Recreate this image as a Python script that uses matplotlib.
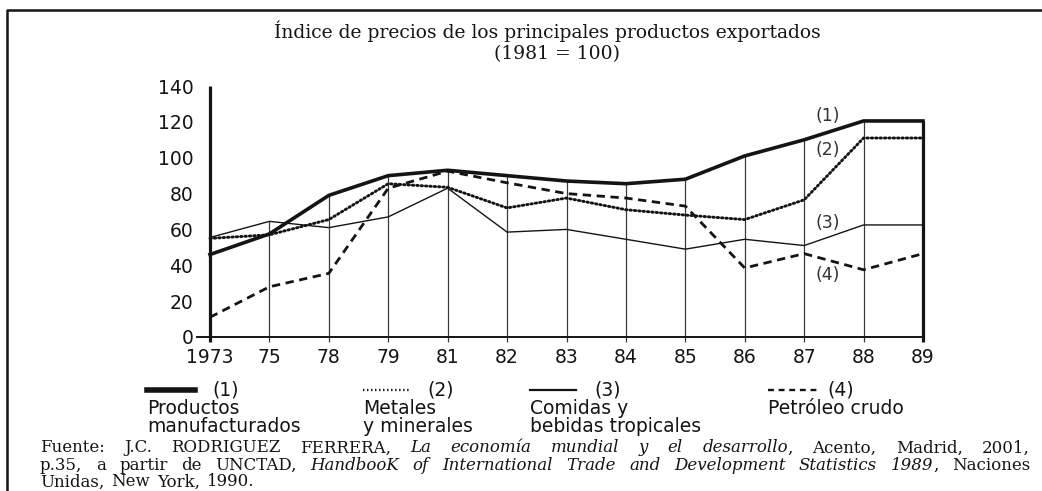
import numpy as np
import matplotlib.pyplot as plt
from matplotlib.lines import Line2D

# Indice de precios (1981 = 100)
years = ["1973", "75", "78", "79", "81", "82", "83", "84", "85", "86", "87", "88", "89"]
manufacturados = [46, 57.5, 79, 90, 93, 90, 87, 85.5, 88, 101, 110, 120.5, 120.5]
metales = [55, 57, 65.5, 85.5, 83.5, 72, 77.5, 71, 68, 65.5, 76.5, 111, 111]
comidas = [55.5, 64.5, 61, 67, 83, 58.5, 60, 54.5, 49, 54.5, 51, 62.5, 62.5]
petroleo = [11, 28, 35.5, 83, 92.5, 86, 80, 77.5, 73, 38.5, 46.5, 37.5, 46.5]

series_ids = ["(1)", "(2)", "(3)", "(4)"]
series_names = [["Productos", "manufacturados"],
                ["Metales", "y minerales"],
                ["Comidas y", "bebidas tropicales"],
                ["Petróleo crudo"]]

INK = "#141414"
SANS = "DejaVu Sans"
SERIF = "DejaVu Serif"

W, H = 1042, 491
fig = plt.figure(figsize=(W / 100, H / 100), dpi=100)


def fx(x):
    return x / W


def fy(y):
    return 1 - y / H


styles = [
    dict(lw=2.6, ls="-"),
    dict(lw=2.1, ls=(0, (0.5, 1.0)), dash_capstyle="round"),
    dict(lw=1.0, ls="-"),
    dict(lw=2.0, ls=(0, (3.0, 2.0))),
]

ax = fig.add_axes([fx(210), fy(337), (923 - 210) / W, (337 - 86) / H])
ax.set_xlim(0, 12)
ax.set_ylim(0, 140)
ax.patch.set_visible(False)
for s in ax.spines.values():
    s.set_visible(False)

xs = np.arange(len(years))
ax.set_xticks(xs)
ax.set_xticklabels(years)
ax.set_yticks(range(0, 141, 20))
ax.tick_params(axis="x", length=0, pad=8, labelsize=13.5, labelcolor=INK)
ax.tick_params(axis="y", length=0, pad=12, labelsize=13.5, labelcolor=INK)
for lab in ax.get_xticklabels() + ax.get_yticklabels():
    lab.set_family(SANS)

# vertical rules at every year, up to the highest curve
all_series = [manufacturados, metales, comidas, petroleo]
tops = np.max(np.array(all_series), axis=0)
for i in xs:
    if i == 0:
        ax.plot([i, i], [-3, 140], color=INK, lw=2.3, clip_on=False, solid_capstyle="butt")
    elif i == xs[-1]:
        ax.plot([i, i], [-3, manufacturados[-1]], color=INK, lw=2.3, clip_on=False,
                solid_capstyle="butt")
    else:
        ax.plot([i, i], [-3, tops[i]], color="#3a3a3a", lw=0.9, clip_on=False,
                solid_capstyle="butt")

# base line
ax.plot([-0.22, 12], [0, 0], color=INK, lw=1.4, clip_on=False)

for vals, st in zip(all_series, styles):
    ax.plot(xs, vals, color=INK, clip_on=False, **st)

# curve labels
for lab, yv in zip(series_ids, [123.5, 104.5, 63.5, 34.5]):
    ax.text(10.4, yv, lab, ha="center", va="center", fontsize=12.5,
            family=SANS, color="#333333")

# title
fig.text(fx(547), fy(38), "Índice de precios de los principales productos exportados",
         ha="center", va="baseline", fontsize=13.5, family=SERIF, color=INK)
fig.text(fx(557), fy(59), "(1981 = 100)", ha="center", va="baseline",
         fontsize=13.5, family=SERIF, color=INK)

# legend below the axis
leg_x = [147, 363, 530, 768]
leg_len = [48, 46, 46, 49]
leg_id_x = [212, 427, 594, 827]
leg_w = [4.0, 1.7, 1.6, 1.7]
leg_ls = ["-", (0, (0.6, 1.1)), "-", (0, (2.5, 2.0))]
for k in range(4):
    fig.add_artist(Line2D([fx(leg_x[k]), fx(leg_x[k] + leg_len[k])], [fy(390), fy(390)],
                          transform=fig.transFigure, color=INK, lw=leg_w[k], ls=leg_ls[k]))
    fig.text(fx(leg_id_x[k]), fy(390), series_ids[k], ha="left", va="center",
             fontsize=13.5, family=SANS, color=INK)
    for j, line in enumerate(series_names[k]):
        fig.text(fx(leg_x[k]), fy(408 + 18 * j), line, ha="left", va="center",
                 fontsize=13.5, family=SANS, color=INK)

# source note, justified between the margins
note = [
    [("Fuente:", False), ("J.C.", False), ("RODRIGUEZ", False), ("FERRERA,", False),
     ("La", True), ("economía", True), ("mundial", True), ("y", True), ("el", True),
     ("desarrollo", True), (",", False), ("Acento,", False), ("Madrid,", False), ("2001,", False)],
    [("p.35,", False), ("a", False), ("partir", False), ("de", False), ("UNCTAD,", False),
     ("HandbooK", True), ("of", True), ("International", True), ("Trade", True),
     ("and", True), ("Development", True), ("Statistics", True), ("1989", True),
     (",", False), ("Naciones", False)],
    [("Unidas,", False), ("New", False), ("York,", False), ("1990.", False)],
]
renderer = fig.canvas.get_renderer()
left, right = 40, 1030
for row, words in enumerate(note):
    y = fy(448 + 17 * row)
    texts = []
    for w, it in words:
        t = fig.text(0, y, w, ha="left", va="center", fontsize=12, family=SERIF,
                     style="italic" if it else "normal", color=INK)
        texts.append(t)
    widths = [t.get_window_extent(renderer).width for t in texts]
    # commas after italic runs stick to the previous word
    glued = [w == "," for w, _ in words]
    n_gaps = sum(1 for g in glued[1:] if not g)
    if row < len(note) - 1:
        gap = (right - left - sum(widths)) / n_gaps
    else:
        gap = 7
    x = left
    for i, t in enumerate(texts):
        if i > 0 and not glued[i]:
            x += gap
        t.set_x(fx(x))
        x += widths[i]

# page frame
fig.add_artist(Line2D([fx(7), fx(7), fx(W)], [fy(H), fy(10), fy(10)],
                      transform=fig.transFigure, color=INK, lw=1.8))

fig.savefig("out.png", dpi=100, facecolor="white")
